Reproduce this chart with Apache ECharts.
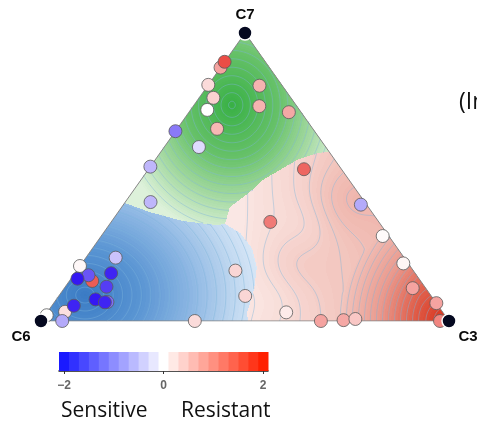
<!DOCTYPE html>
<html>
<head>
<meta charset="utf-8">
<script src="https://cdn.jsdelivr.net/npm/echarts@6/dist/echarts.min.js"></script>
<style>
  html, body { margin: 0; padding: 0; background: #ffffff; }
  #chart { width: 477px; height: 424px; }
</style>
</head>
<body>
<div id="chart"></div>
<script>
// ---- Samples: ternary composition (C6, C3, C7) and response score ----
const sampleC6 = [0.976, 0.925, 0.948, 0.893, 0.809, 0.805, 0.805, 0.838, 0.707, 0.746, 0.780, 0.805, 0.828, 0.811,
                  0.623, 0.436, 0.456, 0.384, 0.314, 0.257, 0.226, 0.022, 0.000, 0.032, 0.012, 0.015, 0.014, 0.266,
                  0.092, 0.525, 0.464, 0.311, 0.341, 0.235, 0.030, 0.092, 0.056, 0.226, 0.190, 0.180, 0.120, 0.100];
const sampleC3 = [0.004, 0.043, 0.052, 0.054, 0.000, 0.056, 0.037, 0.016, 0.073, 0.089, 0.101, 0.130, 0.096, 0.124,
                  0.377, 0.389, 0.457, 0.586, 0.686, 0.740, 0.767, 0.978, 0.938, 0.854, 0.788, 0.690, 0.582, 0.390,
                  0.381, 0.062, 0.000, 0.085, 0.000, 0.098, 0.245, 0.162, 0.127, 0.041, 0.035, 0.000, 0.000, 0.000];
const sampleC7 = [0.020, 0.032, 0.000, 0.053, 0.191, 0.139, 0.159, 0.147, 0.220, 0.166, 0.119, 0.066, 0.075, 0.065,
                  0.000, 0.175, 0.087, 0.030, 0.000, 0.003, 0.007, 0.000, 0.062, 0.114, 0.200, 0.295, 0.404, 0.344,
                  0.527, 0.413, 0.536, 0.604, 0.659, 0.668, 0.725, 0.746, 0.817, 0.733, 0.775, 0.820, 0.880, 0.900];
const sampleScore = [0.0, 0.3, -0.7, -1.8, 0.08, 1.6, -1.4, -1.9, -0.5, -1.8, -1.6, -1.2, -1.9, -1.8,
                     0.35, 0.4, 0.4, 0.2, 0.9, 0.85, 0.55, 1.2, 0.9, 0.9, 0.1, 0.05, -0.7, 1.3,
                     1.5, -0.6, -0.6, -0.3, -1.1, 0.7, 0.85, 0.75, 0.75, 0.0, 0.45, 0.35, 0.9, 1.75];

// ---- Corners of the simplex ----
const vertexNames = ['C6', 'C3', 'C7'];
const vertexC6 = [1, 0, 0];
const vertexC3 = [0, 1, 0];
const vertexC7 = [0, 0, 1];

// ---- Colour scale ----
const scaleTicks = [-2, 0, 2];
const scaleSteps = [-2, -1.8, -1.6, -1.4, -1.2, -1, -0.8, -0.6, -0.4, -0.2, 0,
                    0.2, 0.4, 0.6, 0.8, 1, 1.2, 1.4, 1.6, 1.8, 2];

// Ternary composition -> plot frame (x along C6->C3, y toward C7)
function project(c6, c3, c7) {
  const s = c6 + c3 + c7;
  return [(c3 + c7 / 2) / s, c7 / s];
}

function hexRgb(h) {
  const n = parseInt(h.slice(1), 16);
  return [(n >> 16) & 255, (n >> 8) & 255, n & 255];
}
function rgbStr(c) {
  return 'rgb(' + Math.round(c[0]) + ',' + Math.round(c[1]) + ',' + Math.round(c[2]) + ')';
}
function ramp(stops, t) {
  t = Math.max(0, Math.min(1, t));
  for (let i = 1; i < stops.length; i++) {
    if (t <= stops[i][0]) {
      const a = stops[i - 1], b = stops[i];
      const u = (t - a[0]) / (b[0] - a[0]);
      return [0, 1, 2].map(k => a[1][k] + (b[1][k] - a[1][k]) * u);
    }
  }
  return stops[stops.length - 1][1];
}
const mkStops = arr => arr.map(s => [s[0], hexRgb(s[1])]);

// diverging scale (bar) and marker palette
const barStops = mkStops([[0, '#1a1aff'], [0.5, '#ffffff'], [1, '#ff2000']]);
const markStops = mkStops([[0, '#2a0cf2'], [0.5, '#ffffff'], [1, '#e8332c']]);
const scoreColor = (stops, v) => rgbStr(ramp(stops, (v + 2) / 4));

// ---- Background surface: three zones with their own intensity ----
const greenZone = [[0.5, 1], [0.205, 0.41], [0.267, 0.378], [0.348, 0.347], [0.431, 0.333], [0.451, 0.337],
                   [0.463, 0.396], [0.512, 0.448], [0.544, 0.49], [0.627, 0.559], [0.676, 0.583], [0.706, 0.588]];
const blueZone = [[0, 0], [0.205, 0.41], [0.267, 0.378], [0.348, 0.347], [0.431, 0.333], [0.451, 0.337],
                  [0.488, 0.306], [0.517, 0.253], [0.529, 0.1875], [0.522, 0.108], [0.505, 0.028], [0.507, 0]];
const greenPeak = { x: 0.468, y: 0.75, rx: 0.282, ry: 0.319 };
const bluePeak = { x: 0.108, y: 0.09, rx: 0.46, ry: 0.39 };
const redCorner = { x: 1, y: 0, r: 0.27, w: 0.62 };
const redBumps = [
  { x: 0.745, y: 0.42, s: 0.06, w: 0.09 },
  { x: 0.655, y: 0.33, s: 0.05, w: -0.04 },
  { x: 0.62, y: 0.2, s: 0.055, w: 0.055 },
  { x: 0.58, y: 0.08, s: 0.05, w: -0.03 }
];
const greenStops = mkStops([[0, '#ddf1da'], [0.3, '#a2d89f'], [0.6, '#66c168'], [1, '#38b045']]);
const blueStops = mkStops([[0, '#e4eef9'], [0.2, '#c0d8f0'], [0.45, '#89b4e2'], [0.7, '#5a95d3'], [1, '#3a7bc4']]);
const redStops = mkStops([[0, '#fdf2f0'], [0.3, '#f1c0b8'], [0.55, '#ea9a8e'], [0.8, '#e0604c'], [1, '#d8321c']]);
const zoneStops = [greenStops, blueStops, redStops];
const contourStart = [0.06, 0.05, 0.08];
const contourStep = [0.065, 0.05, 0.045];

function inPoly(poly, x, y) {
  let c = false;
  for (let i = 0, j = poly.length - 1; i < poly.length; j = i++) {
    const xi = poly[i][0], yi = poly[i][1], xj = poly[j][0], yj = poly[j][1];
    if (((yi > y) !== (yj > y)) && (x < (xj - xi) * (y - yi) / (yj - yi) + xi)) c = !c;
  }
  return c;
}
function zoneAt(x, y) {
  if (inPoly(greenZone, x, y)) return 0;
  if (inPoly(blueZone, x, y)) return 1;
  return 2;
}
function fieldAt(zone, x, y, k) {
  if (zone === 0 || zone === 1) {
    const p = zone === 0 ? greenPeak : bluePeak;
    const dx = (x - p.x) / p.rx, dy = (y - p.y) * k / p.ry;
    return 1 - Math.sqrt(dx * dx + dy * dy);
  }
  let f = 0.06 + 0.34 * Math.max(0, Math.min(1, (x - 0.48) / 0.45));
  const dc = Math.hypot(x - redCorner.x, (y - redCorner.y) * k);
  f += redCorner.w * Math.max(0, 1 - dc / redCorner.r);
  for (const b of redBumps) {
    const dx = x - b.x, dy = (y - b.y) * k;
    f += b.w * Math.exp(-(dx * dx + dy * dy) / (2 * b.s * b.s));
  }
  return f;
}

function renderSurface(params, api) {
  const o = api.coord([0, 0]);
  const e = api.coord([1, 1]);
  const W = e[0] - o[0], H = o[1] - e[1];
  const k = H / W;
  const top = e[1];
  const children = [];
  const Q = 60;

  // filled surface, one pixel row at a time, merged into runs
  for (let py = Math.floor(top); py < Math.ceil(o[1]); py++) {
    const yc = py + 0.5;
    const y = (o[1] - yc) / H;
    if (y < 0 || y > 1) continue;
    const xl = o[0] + (y / 2) * W, xr = o[0] + (1 - y / 2) * W;
    let runStart = xl, runKey = null, runColor = null;
    for (let px = Math.floor(xl); px < Math.ceil(xr); px++) {
      const x = (px + 0.5 - o[0]) / W;
      const z = zoneAt(x, y);
      const q = Math.round(Math.max(0, Math.min(1, fieldAt(z, x, y, k))) * Q);
      const key = z * 1000 + q;
      if (key !== runKey) {
        const cut = Math.max(xl, px);
        if (runKey !== null && cut > runStart) {
          children.push({ type: 'rect', shape: { x: runStart, y: py, width: cut - runStart + 0.4, height: 1.05 },
                          style: { fill: runColor }, silent: true });
        }
        runStart = cut; runKey = key;
        runColor = rgbStr(ramp(zoneStops[z], q / Q));
      }
    }
    if (runKey !== null && xr > runStart) {
      children.push({ type: 'rect', shape: { x: runStart, y: py, width: xr - runStart, height: 1.05 },
                      style: { fill: runColor }, silent: true });
    }
  }

  // contour lines (marching squares on a coarse lattice)
  const cs = 2;
  const nx = Math.ceil(W / cs) + 2, ny = Math.ceil(H / cs) + 2;
  const grids = [new Float32Array(nx * ny), new Float32Array(nx * ny), new Float32Array(nx * ny)];
  for (let j = 0; j < ny; j++) {
    for (let i = 0; i < nx; i++) {
      const x = i * cs / W, y = 1 - j * cs / H;
      for (let z = 0; z < 3; z++) grids[z][j * nx + i] = fieldAt(z, x, y, k);
    }
  }
  const parts = [];
  for (let j = 0; j < ny - 1; j++) {
    for (let i = 0; i < nx - 1; i++) {
      const xc = (i + 0.5) * cs / W, yc = 1 - (j + 0.5) * cs / H;
      if (yc < 0 || xc < yc / 2 || xc > 1 - yc / 2) continue;
      const z = zoneAt(xc, yc);
      const g = grids[z];
      const a = g[j * nx + i], b = g[j * nx + i + 1], c = g[(j + 1) * nx + i + 1], d = g[(j + 1) * nx + i];
      const lo = Math.min(a, b, c, d), hi = Math.max(a, b, c, d);
      const X0 = o[0] + i * cs, Y0 = top + j * cs;
      for (let L = contourStart[z]; L < 1; L += contourStep[z]) {
        if (L <= lo || L >= hi) continue;
        const pts = [];
        if ((a - L) * (b - L) < 0) pts.push([X0 + cs * (L - a) / (b - a), Y0]);
        if ((b - L) * (c - L) < 0) pts.push([X0 + cs, Y0 + cs * (L - b) / (c - b)]);
        if ((d - L) * (c - L) < 0) pts.push([X0 + cs * (L - d) / (c - d), Y0 + cs]);
        if ((a - L) * (d - L) < 0) pts.push([X0, Y0 + cs * (L - a) / (d - a)]);
        for (let p = 0; p + 1 < pts.length; p += 2) {
          parts.push('M' + pts[p][0].toFixed(2) + ' ' + pts[p][1].toFixed(2) +
                     'L' + pts[p + 1][0].toFixed(2) + ' ' + pts[p + 1][1].toFixed(2));
        }
      }
    }
  }
  children.push({
    type: 'path', shape: { pathData: parts.join('') }, silent: true,
    style: { fill: null, stroke: 'rgba(125,180,218,0.55)', lineWidth: 0.75 }
  });
  return { type: 'group', children };
}

// ---- Assemble series data ----
const samplePoints = sampleC6.map((c6, i) => {
  const p = project(c6, sampleC3[i], sampleC7[i]);
  return [p[0], p[1], sampleScore[i]];
});
const vertexComps = [vertexC6, vertexC3, vertexC7];
const vertexPoints = vertexComps.map((c, i) => ({ name: vertexNames[i], value: project(c[0], c[1], c[2]) }));
const outline = [vertexC6, vertexC3, vertexC7, vertexC6].map(c => project(c[0], c[1], c[2]));

const vertexLabel = {
  C7: { position: 'top', distance: 3 },
  C6: { position: 'bottom', distance: 1, offset: [-20, 0] },
  C3: { position: 'bottom', distance: 1, offset: [19, 0] }
};

const chart = echarts.init(document.getElementById('chart'), null, { renderer: 'canvas' });
chart.setOption({
  animation: false,
  backgroundColor: '#ffffff',
  grid: [
    { left: 41, top: 33, width: 408, height: 288 },
    { left: 59, top: 352, width: 209, height: 19 }
  ],
  xAxis: [
    { gridIndex: 0, type: 'value', min: 0, max: 1, show: false },
    {
      gridIndex: 1, type: 'value', min: -2.1, max: 2.1,
      splitLine: { show: false },
      axisLine: { show: true, lineStyle: { color: '#1a1a1a', width: 1.5 } },
      axisTick: { show: true, customValues: scaleTicks, length: 3, lineStyle: { color: '#333' } },
      axisLabel: {
        customValues: scaleTicks, margin: 9, color: '#666', fontWeight: 'bold', fontSize: 12,
        fontFamily: 'Liberation Sans',
        formatter: v => String(v).replace('-', '\u2212')
      }
    }
  ],
  yAxis: [
    { gridIndex: 0, type: 'value', min: 0, max: 1, show: false },
    { gridIndex: 1, type: 'value', min: 0, max: 1, show: false }
  ],
  series: [
    {
      type: 'custom', xAxisIndex: 0, yAxisIndex: 0, z: 1, silent: true,
      data: [[0, 0]], renderItem: renderSurface
    },
    {
      type: 'line', xAxisIndex: 0, yAxisIndex: 0, z: 2, silent: true,
      data: outline, symbol: 'none',
      lineStyle: { color: '#858585', width: 1 }
    },
    {
      type: 'scatter', xAxisIndex: 0, yAxisIndex: 0, z: 3,
      data: samplePoints, symbolSize: 13,
      itemStyle: {
        color: p => scoreColor(markStops, p.value[2]),
        borderColor: '#5a5a5a', borderWidth: 0.8, opacity: 1
      }
    },
    {
      type: 'scatter', xAxisIndex: 0, yAxisIndex: 0, z: 4,
      data: vertexPoints.map(v => ({
        name: v.name, value: v.value,
        label: Object.assign({ show: true, formatter: '{b}' }, vertexLabel[v.name])
      })),
      symbolSize: 14,
      itemStyle: { color: '#050920', borderColor: '#ffffff', borderWidth: 1.5, opacity: 1 },
      label: { color: '#0a0a0a', fontWeight: 'bold', fontSize: 15, fontFamily: 'Liberation Sans' }
    },
    {
      type: 'custom', xAxisIndex: 1, yAxisIndex: 1, z: 2, silent: true,
      data: scaleSteps.map(v => [v]),
      renderItem: (params, api) => {
        const v = api.value(0);
        const a = api.coord([v - 0.1, 1]), b = api.coord([v + 0.1, 0]);
        return {
          type: 'rect',
          shape: { x: a[0], y: a[1], width: b[0] - a[0] + 0.5, height: b[1] - a[1] },
          style: { fill: scoreColor(barStops, v) }
        };
      }
    }
  ],
  graphic: [
    { type: 'text', x: 61, y: 411, style: { text: 'Sensitive', fontSize: 21, fontFamily: 'Open Sans', fill: '#111', verticalAlign: 'middle' } },
    { type: 'text', x: 181, y: 411, style: { text: 'Resistant', fontSize: 21, fontFamily: 'Open Sans', fill: '#111', verticalAlign: 'middle' } },
    { type: 'text', x: 459, y: 102, style: { text: '(In', fontSize: 23, fontFamily: 'Open Sans', fill: '#111', verticalAlign: 'middle' } }
  ]
});
</script>
</body>
</html>
